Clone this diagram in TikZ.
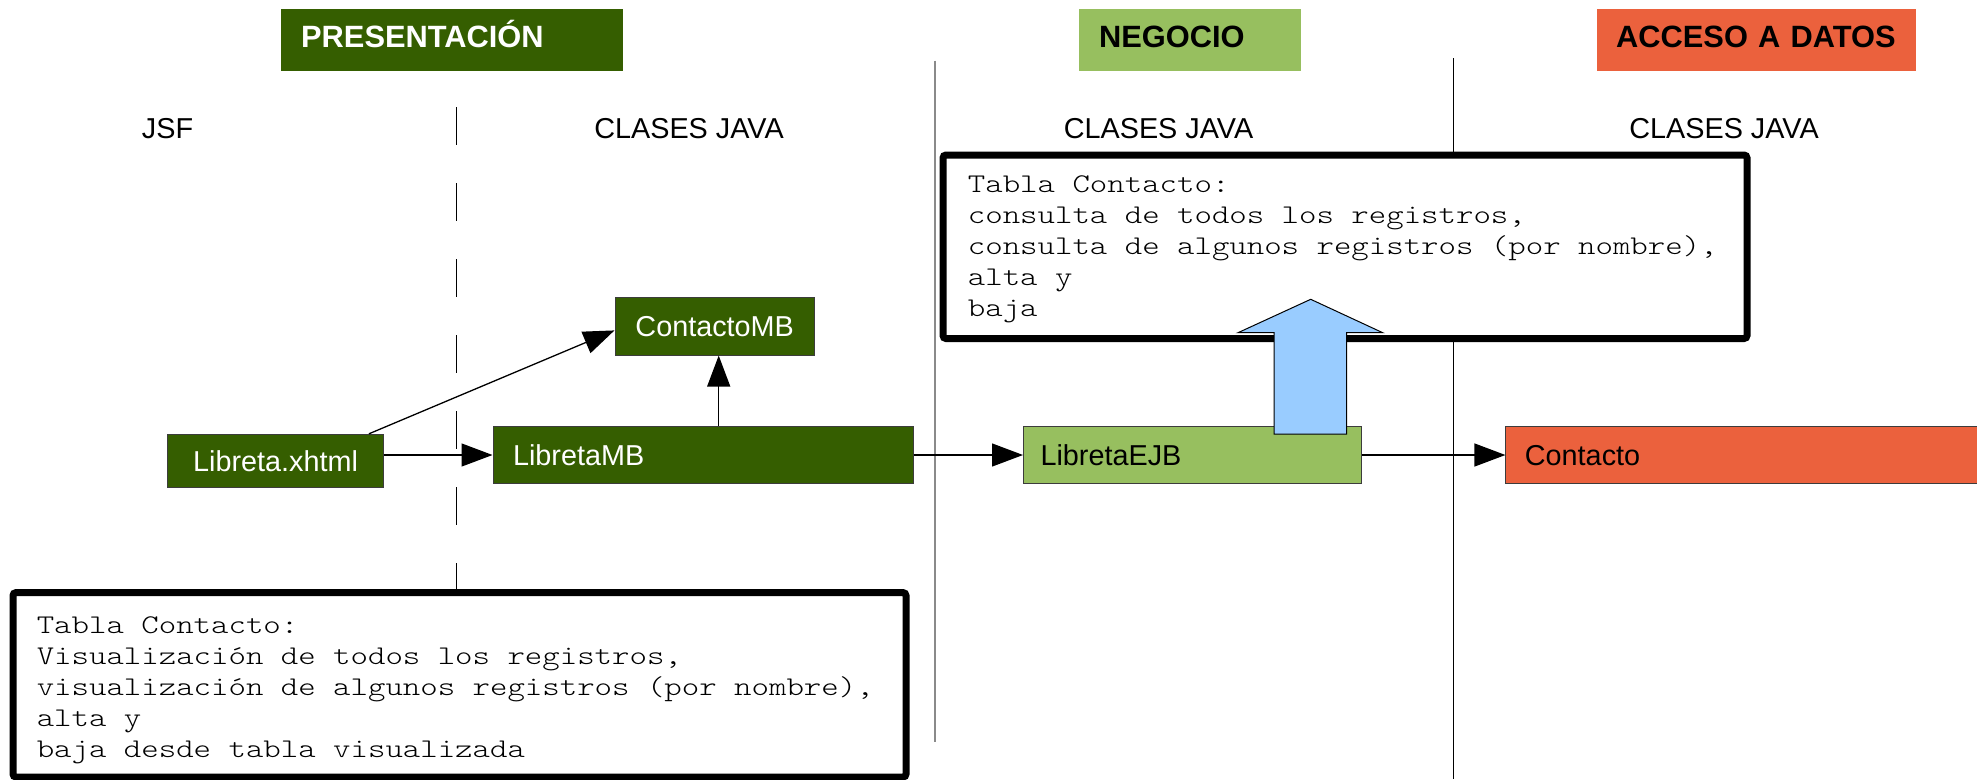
\documentclass[tikz,border=0pt]{standalone}
\usepackage{fontspec}
\setmainfont{Liberation Sans}
\usepackage{graphicx}
\usetikzlibrary{arrows.meta,calc}

\definecolor{darkgreen}{HTML}{355E00}
\definecolor{lightgreen}{HTML}{97BF5F}
\definecolor{datared}{HTML}{EB613D}
\definecolor{arrowblue}{HTML}{99CCFF}
\definecolor{edgegray}{HTML}{3C3C3C}
\definecolor{linegray}{HTML}{8A8A8A}

\newcommand{\headfont}{\fontsize{30.8}{36}\selectfont\bfseries}
\newcommand{\bodyfont}{\fontsize{28.8}{34}\selectfont}
\newcommand{\notefont}{\ttfamily\fontseries{l}\fontsize{27}{31}\selectfont}

\tikzset{
  head/.style={font=\headfont, anchor=north west, minimum height=62pt,
    text height=22pt, text depth=6.5pt, inner xsep=20pt, inner ysep=0pt,
    align=left},
  collabel/.style={font=\bodyfont, anchor=base, inner sep=0pt},
  cls/.style={draw=edgegray, line width=1pt, font=\bodyfont,
    text height=20.6pt, text depth=0pt, inner sep=0pt},
  clsleft/.style={cls, align=left, inner ysep=0pt},
  conn/.style={line width=1.3pt, -{Triangle[length=31pt,width=23pt]}},
  notebox/.style={draw=black, line width=7pt, fill=white, rounded corners=3pt,
    inner sep=0pt},
  notetext/.style={font=\notefont, anchor=north west, inner sep=0pt},
  tierline/.style={line width=1.3pt, black},
}

\begin{document}
\begin{tikzpicture}[x=1pt, y=-1pt]
\clip (0,0) rectangle (1977,779);

% tier separators
\draw[tierline, dash pattern=on 38pt off 38pt] (456.3,107) -- (456.3,592);
\draw[line width=2pt, linegray] (935,60.5) -- (935,742);
\draw[tierline] (1453.3,58) -- (1453.3,779);

% tier headers
\node[head, fill=darkgreen, text=white, text width=302pt] (pres) at (281,9) {\mbox{PRESENTACIÓN}};
\node[head, fill=lightgreen, text=black, text width=182pt] (neg) at (1079,9) {\mbox{NEGOCIO}};
\node[head, fill=datared, text=black, text width=281pt, inner xsep=19pt] (acc) at (1597,9) {\mbox{ACCESO A DATOS}};

% column labels
\node[collabel] (jsf) at (167.5,138) {JSF};
\node[collabel] (cj1) at (689,138) {CLASES JAVA};
\node[collabel] (cj2) at (1158.5,138) {CLASES JAVA};
\node[collabel] (cj3) at (1724,138) {CLASES JAVA};

% notes
\node[notebox, minimum width=804pt, minimum height=183.5pt] (topnote) at (1345,246.75) {};
\node[notetext] (toptext) at (967.7,171) {\scalebox{1.23}[1]{\begin{tabular}{@{}l@{}}
Tabla Contacto:\\
consulta de todos los registros,\\
consulta de algunos registros (por nombre),\\
alta y\\
baja
\end{tabular}}};

\node[notebox, minimum width=893pt, minimum height=184.4pt] (botnote) at (459.5,684.8) {};
\node[notetext] (bottext) at (36.6,611.3) {\scalebox{1.23}[1]{\begin{tabular}{@{}l@{}}
Tabla Contacto:\\
Visualización de todos los registros,\\
visualización de algunos registros (por nombre),\\
alta y\\
baja desde tabla visualizada
\end{tabular}}};

% classes
\node[cls, fill=darkgreen, text=white, minimum width=199.4pt, minimum height=57.3pt] (cmb) at (714.7,326.4) {ContactoMB};
\node[cls, fill=darkgreen, text=white, minimum width=215.7pt, minimum height=53.4pt] (xhtml) at (275.6,461) {Libreta.xhtml};
\node[clsleft, fill=darkgreen, text=white, inner xsep=20pt, text width=380pt, minimum height=56.6pt] (lmb) at (703,455) {LibretaMB};
\node[clsleft, fill=lightgreen, text=black, inner xsep=17pt, text width=304pt, minimum height=56.6pt] (ejb) at (1192.5,455) {LibretaEJB};
\node[clsleft, fill=datared, text=black, inner xsep=19pt, text width=456pt, minimum height=56.6pt] (cto) at (1752.9,455) {Contacto};

% calls
\draw[conn] (xhtml.east |- lmb.west) -- (lmb.west);
\draw[conn] (xhtml.north east) ++(-15,0) -- ([yshift=-4pt]cmb.west);
\draw[conn] ([xshift=4pt]cmb.south |- lmb.north) -- ([xshift=4pt]cmb.south);
\draw[conn] (lmb.east) -- (ejb.west);
\draw[conn] (ejb.east) -- (cto.west);

% service exposed by the EJB
\draw[fill=arrowblue, draw=black, line width=1pt]
  (1274,434) -- (1274,332.7) -- (1238,332.7) -- (1310.7,299.3)
  -- (1382.7,332.7) -- (1346.7,332.7) -- (1346.7,434) -- cycle;
\end{tikzpicture}
\end{document}
